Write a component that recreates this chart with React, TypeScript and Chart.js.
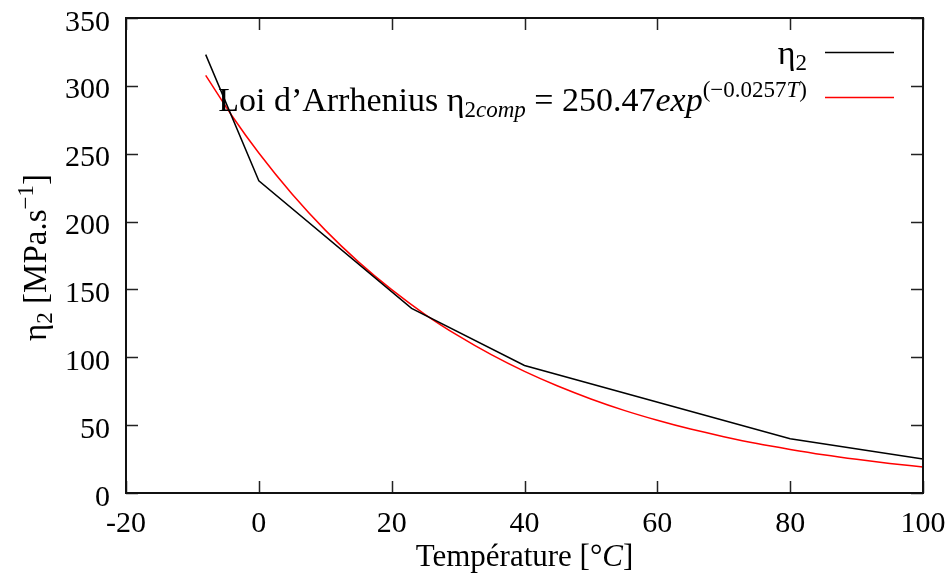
import React, { useEffect, useRef } from "react";
import { Chart, registerables } from "chart.js";

Chart.register(...registerables);

// ---- data ----
const measuredTemps = [-8, 0, 23, 40, 80, 100];
const measuredEta2 = [323, 230, 136, 94, 40, 25];

const fitTemps = [-8, -4, 0, 5, 10, 15, 20, 25, 30, 35, 40, 45, 50, 55, 60, 65, 70, 75, 80, 85, 90, 95, 100];
const fitEta2 = [307.7, 277.6, 250.5, 220.3, 193.7, 170.3, 149.8, 131.7, 115.9, 101.9, 89.6, 78.8, 69.3, 60.9, 53.6, 47.1, 41.5, 36.4, 32.1, 28.2, 24.8, 21.8, 19.2];

const xTicks = [-20, 0, 20, 40, 60, 80, 100];
const yTicks = [0, 50, 100, 150, 200, 250, 300, 350];

const seriesLabels = ["η2", "Loi d’Arrhenius η2comp = 250.47exp(−0.0257T)"];
const xTitle = "Température [°C]";
const yTitle = "η2 [MPa.s−1]";

// ---- rich text ----
type Seg = { t: string; size: number; italic?: boolean; dy?: number };
const FONT = '"Liberation Serif", "Times New Roman", serif';
const TICK = 30;
const LEG = 34;
const LEG_S = 23;

const legend1: Seg[] = [
  { t: "η", size: LEG },
  { t: "2", size: LEG_S, dy: 6 },
];
const legend2: Seg[] = [
  { t: "Loi d’Arrhenius η", size: LEG },
  { t: "2", size: LEG_S, dy: 6 },
  { t: "comp", size: LEG_S, italic: true, dy: 6 },
  { t: " = 250.47", size: LEG },
  { t: "exp", size: LEG, italic: true },
  { t: "(−0.0257", size: LEG_S, dy: -14 },
  { t: "T", size: LEG_S, italic: true, dy: -14 },
  { t: ")", size: LEG_S, dy: -14 },
];
const xTitleSegs: Seg[] = [
  { t: "Température [°", size: 31 },
  { t: "C", size: 31, italic: true },
  { t: "]", size: 31 },
];
const yTitleSegs: Seg[] = [
  { t: "η", size: 33 },
  { t: "2", size: 23, dy: 6 },
  { t: " [MPa.s", size: 33 },
  { t: "−1", size: 23, dy: -13 },
  { t: "]", size: 33 },
];

function segFont(s: Seg) {
  return `${s.italic ? "italic " : ""}${s.size}px ${FONT}`;
}
function measureSegs(ctx: CanvasRenderingContext2D, segs: Seg[]) {
  let w = 0;
  for (const s of segs) {
    ctx.font = segFont(s);
    w += ctx.measureText(s.t).width;
  }
  return w;
}
function drawSegs(ctx: CanvasRenderingContext2D, segs: Seg[], x: number, y: number) {
  let cx = x;
  ctx.textAlign = "left";
  ctx.textBaseline = "alphabetic";
  for (const s of segs) {
    ctx.font = segFont(s);
    ctx.fillText(s.t, cx, y + (s.dy || 0));
    cx += ctx.measureText(s.t).width;
  }
}

const framePlugin = {
  id: "framePlugin",
  afterDraw(chart: any) {
    const ctx: CanvasRenderingContext2D = chart.ctx;
    const { left, right, top, bottom } = chart.chartArea;
    const xs = chart.scales.x;
    const ys = chart.scales.y;
    ctx.save();
    ctx.fillStyle = "#000";
    ctx.strokeStyle = "#222";
    // inward ticks
    ctx.lineWidth = 1.5;
    const tl = 12;
    ctx.beginPath();
    for (const t of xs.ticks) {
      const px = Math.round(xs.getPixelForValue(t.value)) + 0.5;
      ctx.moveTo(px, bottom);
      ctx.lineTo(px, bottom - tl);
      ctx.moveTo(px, top);
      ctx.lineTo(px, top + tl);
    }
    for (const t of ys.ticks) {
      const py = Math.round(ys.getPixelForValue(t.value)) + 0.5;
      ctx.moveTo(left, py);
      ctx.lineTo(left + tl, py);
      ctx.moveTo(right, py);
      ctx.lineTo(right - tl, py);
    }
    ctx.stroke();
    // frame
    ctx.lineWidth = 2;
    ctx.strokeStyle = "#111";
    ctx.strokeRect(left, top, right - left, bottom - top);

    // tick labels
    ctx.font = `${TICK}px ${FONT}`;
    ctx.textBaseline = "alphabetic";
    ctx.textAlign = "center";
    for (const t of xs.ticks) {
      ctx.fillText(String(t.value), xs.getPixelForValue(t.value), 532);
    }
    ctx.textAlign = "right";
    for (const t of ys.ticks) {
      ctx.fillText(String(t.value), 110, ys.getPixelForValue(t.value) + 12.5);
    }

    // legend
    const textRight = 807;
    const w1 = measureSegs(ctx, legend1);
    drawSegs(ctx, legend1, textRight - w1, 64);
    const w2 = measureSegs(ctx, legend2);
    drawSegs(ctx, legend2, textRight - w2, 111);
    ctx.lineWidth = 1.5;
    ctx.strokeStyle = "#000";
    ctx.beginPath();
    ctx.moveTo(825, 52.5);
    ctx.lineTo(894, 52.5);
    ctx.stroke();
    ctx.strokeStyle = "#ff0000";
    ctx.beginPath();
    ctx.moveTo(825, 97.5);
    ctx.lineTo(894, 97.5);
    ctx.stroke();

    // x title
    const wx = measureSegs(ctx, xTitleSegs);
    drawSegs(ctx, xTitleSegs, (left + right) / 2 - wx / 2, 566);

    // y title
    const wy = measureSegs(ctx, yTitleSegs);
    ctx.translate(46, (top + bottom) / 2 + 2);
    ctx.rotate(-Math.PI / 2);
    drawSegs(ctx, yTitleSegs, -wy / 2, 0);
    ctx.restore();
  },
};

export default function App() {
  const canvasRef = useRef<HTMLCanvasElement | null>(null);

  useEffect(() => {
    const canvas = canvasRef.current;
    if (!canvas) return;
    const chart = new Chart(canvas, {
      type: "line",
      data: {
        datasets: [
          {
            label: seriesLabels[0],
            data: measuredTemps.map((t, i) => ({ x: t, y: measuredEta2[i] })),
            borderColor: "#000000",
            borderWidth: 1.5,
            pointRadius: 0,
            tension: 0,
            fill: false,
          },
          {
            label: seriesLabels[1],
            data: fitTemps.map((t, i) => ({ x: t, y: fitEta2[i] })),
            borderColor: "#ff0000",
            borderWidth: 1.5,
            pointRadius: 0,
            cubicInterpolationMode: "monotone",
            fill: false,
          },
        ],
      },
      options: {
        responsive: false,
        animation: false,
        devicePixelRatio: 1,
        layout: { padding: { top: 18, right: 27, bottom: 0, left: 0 } },
        plugins: {
          legend: { display: false },
          tooltip: { enabled: false },
          title: { display: false },
        },
        scales: {
          x: {
            type: "linear",
            min: -20,
            max: 100,
            afterBuildTicks: (scale: any) => {
              scale.ticks = xTicks.map((v) => ({ value: v }));
            },
            afterFit: (scale: any) => {
              scale.height = 84;
            },
            grid: { display: false, drawTicks: false },
            border: { display: false },
            ticks: { display: false },
          },
          y: {
            type: "linear",
            min: 0,
            max: 350,
            afterBuildTicks: (scale: any) => {
              scale.ticks = yTicks.map((v) => ({ value: v }));
            },
            afterFit: (scale: any) => {
              scale.width = 126;
            },
            grid: { display: false, drawTicks: false },
            border: { display: false },
            ticks: { display: false },
          },
        },
      },
      plugins: [framePlugin],
    } as any);
    return () => chart.destroy();
  }, []);

  return (
    <div style={{ position: "absolute", left: 0, top: 0, width: 950, height: 577, background: "#fff" }}>
      <canvas ref={canvasRef} width={950} height={577} />
    </div>
  );
}
